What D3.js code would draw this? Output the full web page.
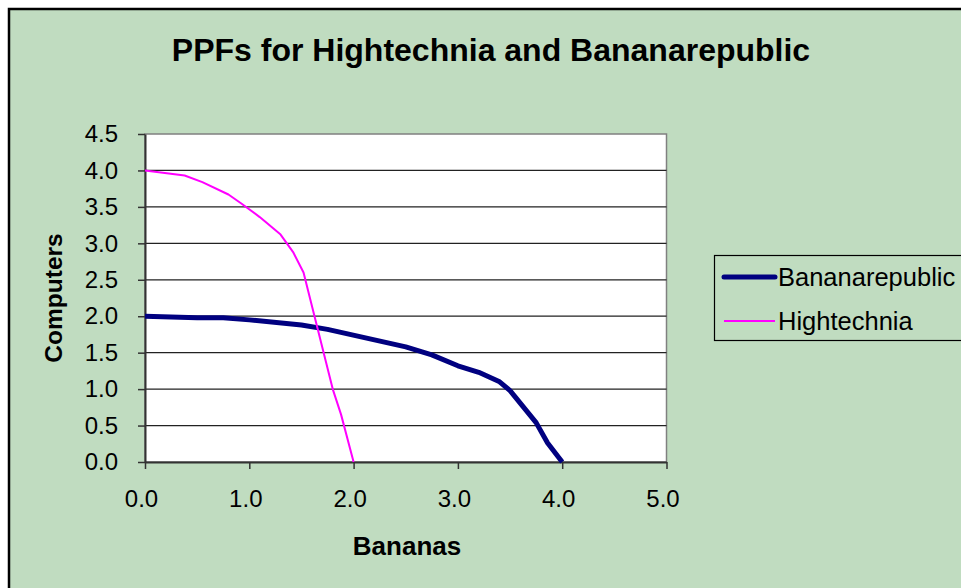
<!DOCTYPE html>
<html>
<head>
<meta charset="utf-8">
<script src="https://cdn.jsdelivr.net/npm/d3@7"></script>
<style>
  body { margin: 0; background: #fff; }
  text { font-family: "Liberation Sans", Arial, sans-serif; }
</style>
</head>
<body>
<div id="chart"></div>
<script>
var w = 961;
var h = 588;

// data
var bananaX = [0, 0.5, 0.75, 1.0, 1.5, 1.75, 2.5, 2.75, 3.0, 3.2, 3.4, 3.5, 3.75, 3.86, 4.0];
var bananaY = [2.0, 1.98, 1.98, 1.95, 1.88, 1.82, 1.58, 1.47, 1.32, 1.23, 1.10, 0.98, 0.54, 0.26, 0];
var hightechX = [0, 0.38, 0.55, 0.8, 0.92, 1.1, 1.3, 1.42, 1.52, 1.8, 1.88, 2.0];
var hightechY = [4.0, 3.93, 3.84, 3.67, 3.55, 3.36, 3.12, 2.88, 2.6, 1.0, 0.65, 0];
var xTicks = [0, 1, 2, 3, 4, 5];
var yTicks = [0, 0.5, 1, 1.5, 2, 2.5, 3, 3.5, 4, 4.5];
var seriesNames = ["Bananarepublic", "Hightechnia"];
var seriesColors = ["#000080", "#ff00ff"];
var seriesWidths = [5, 2];

var svg = d3.select("#chart")
    .append("svg")
    .attr("width", w)
    .attr("height", h);

// chart area (extends past the window like the screenshot)
svg.append("rect")
    .attr("x", 9).attr("y", 9)
    .attr("width", 975).attr("height", 600)
    .attr("fill", "#c0dcc0")
    .attr("stroke", "#000")
    .attr("stroke-width", 2.5);

var xScale = d3.scaleLinear().domain([0, 5]).range([145, 666.5]),
    yScale = d3.scaleLinear().domain([0, 4.5]).range([462, 134]);

// plot area
svg.append("rect")
    .attr("x", xScale(0)).attr("y", yScale(4.5))
    .attr("width", xScale(5) - xScale(0))
    .attr("height", yScale(0) - yScale(4.5))
    .attr("fill", "#fff")
    .attr("stroke", "#808080")
    .attr("stroke-width", 1.5);

// gridlines
svg.append("g")
    .selectAll("line")
    .data(yTicks.slice(1, -1))
    .enter().append("line")
    .attr("x1", xScale(0)).attr("x2", xScale(5))
    .attr("y1", function(d) { return yScale(d); })
    .attr("y2", function(d) { return yScale(d); })
    .attr("stroke", "#222")
    .attr("stroke-width", 1.2);

// y axis
var yAxis = svg.append("g")
    .attr("transform", "translate(" + xScale(0) + ",0)")
    .call(d3.axisLeft(yScale).tickValues(yTicks).tickFormat(d3.format(".1f"))
        .tickSize(7).tickPadding(20).tickSizeOuter(0));
yAxis.select(".domain").attr("stroke", "#333").attr("stroke-width", 2);
yAxis.selectAll(".tick line").attr("stroke", "#333").attr("stroke-width", 1.5);
yAxis.selectAll("text").attr("font-size", 24).attr("fill", "#000")
    .style("font-family", "Liberation Sans, Arial, sans-serif");

// x axis
var xAxis = svg.append("g")
    .attr("transform", "translate(0," + yScale(0) + ")")
    .call(d3.axisBottom(xScale).tickValues(xTicks).tickFormat(d3.format(".1f"))
        .tickSize(7).tickSizeOuter(0));
xAxis.select(".domain").attr("stroke", "#333").attr("stroke-width", 2);
xAxis.selectAll(".tick line").attr("stroke", "#333").attr("stroke-width", 1.5);
xAxis.selectAll("text").attr("font-size", 24).attr("fill", "#000")
    .attr("y", 45).attr("dy", 0).attr("dx", -4)
    .style("font-family", "Liberation Sans, Arial, sans-serif");

// lines
var series = [
    d3.zip(bananaX, bananaY),
    d3.zip(hightechX, hightechY)
];
var line = d3.line()
    .x(function(d) { return xScale(d[0]); })
    .y(function(d) { return yScale(d[1]); });

svg.append("g")
    .selectAll("path")
    .data(series)
    .enter().append("path")
    .attr("d", line)
    .attr("fill", "none")
    .attr("stroke", function(d, i) { return seriesColors[i]; })
    .attr("stroke-width", function(d, i) { return seriesWidths[i]; })
    .attr("stroke-linejoin", "round");

// title
svg.append("text")
    .attr("x", 491).attr("y", 61)
    .attr("text-anchor", "middle")
    .attr("font-size", 32)
    .attr("font-weight", "bold")
    .text("PPFs for Hightechnia and Bananarepublic");

// axis titles
svg.append("text")
    .attr("x", 407).attr("y", 555)
    .attr("text-anchor", "middle")
    .attr("font-size", 26)
    .attr("font-weight", "bold")
    .text("Bananas");

svg.append("text")
    .attr("transform", "translate(62,298) rotate(-90)")
    .attr("text-anchor", "middle")
    .attr("font-size", 24.5)
    .attr("font-weight", "bold")
    .text("Computers");

// legend
var legend = svg.append("g");
legend.append("rect")
    .attr("x", 714.5).attr("y", 255.5)
    .attr("width", 260).attr("height", 85)
    .attr("fill", "#c0dcc0")
    .attr("stroke", "#000")
    .attr("stroke-width", 1.2);

var items = legend.selectAll("g.item")
    .data(seriesNames)
    .enter().append("g")
    .attr("class", "item")
    .attr("transform", function(d, i) { return "translate(0," + (277 + i * 44) + ")"; });

items.append("line")
    .attr("x1", 724).attr("x2", 775)
    .attr("stroke", function(d, i) { return seriesColors[i]; })
    .attr("stroke-width", function(d, i) { return seriesWidths[i]; })
    .attr("stroke-linecap", function(d, i) { return i === 0 ? "round" : "butt"; });

items.append("text")
    .attr("x", 778).attr("y", 0)
    .attr("dy", "0.35em")
    .attr("font-size", 25.5)
    .text(function(d) { return d; });
</script>
</body>
</html>
